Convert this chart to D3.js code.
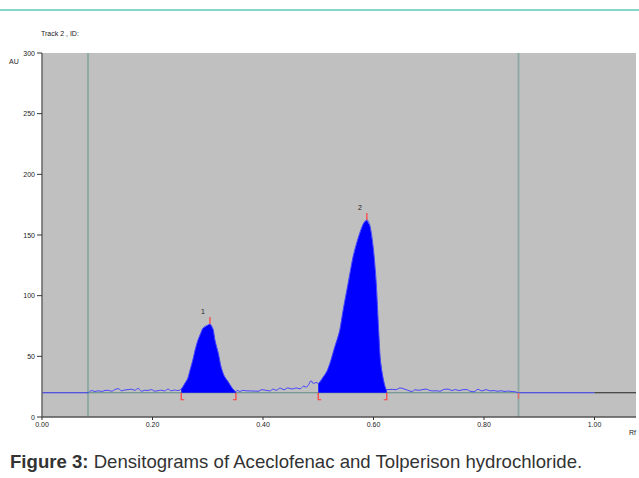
<!DOCTYPE html>
<html lang="en">
<head>
<meta charset="UTF-8">
<title>Densitogram</title>
<script src="https://d3js.org/d3.v7.min.js"></script>
<style>
    body {margin: 0; background: #fff;}
    svg {display: block;}
    text {font-family: Arial, "Liberation Sans", sans-serif;}
    .small {font-size: 7px; fill: #222;}
</style>
</head>
<body>
<div id="chart"></div>
<script>

    // scan signal (Rf, AU)
    var rf = [0.084,0.090,0.096,0.102,0.108,0.114,0.120,0.126,0.132,0.138,0.144,0.150,0.156,0.162,0.168,0.174,0.180,0.186,0.192,0.198,0.204,0.210,0.216,0.222,0.228,0.234,0.240,0.246,
              0.252,0.255,0.259,0.264,0.268,0.273,0.277,0.282,0.286,0.291,0.299,0.304,0.308,0.310,0.313,0.319,0.324,0.329,0.337,0.344,0.351,
              0.353,0.358,0.364,0.371,0.378,0.386,0.391,0.398,0.405,0.413,0.418,0.424,0.431,0.438,0.445,0.453,0.460,0.467,0.474,0.478,0.483,0.487,0.491,0.496,
              0.500,0.509,0.516,0.521,0.530,0.539,0.545,0.554,0.563,0.573,0.582,0.588,0.594,0.600,0.605,0.609,0.612,0.617,0.621,0.624,
              0.6245,0.634,0.641,0.648,0.655,0.662,0.670,0.675,0.682,0.688,0.695,0.701,0.708,0.715,0.720,0.728,0.735,0.742,0.748,0.755,0.762,0.769,0.775,0.782,0.789,0.796,0.804,0.811,0.818,0.824,0.831,0.838,0.843,0.851,0.856,0.862];
    var au = [20.0,21.8,21.0,21.6,21.0,21.9,22.0,21.2,22.6,23.4,21.6,22.3,22.6,22.9,22.0,23.6,21.2,22.0,21.9,22.6,21.3,21.7,22.1,21.5,23.0,21.6,22.2,21.8,
              23.0,25,28,32,38.7,47,55,63,67.6,73,75.5,76.6,74,71.7,63.5,52.7,41.5,34.6,29,24,20.8,
              22,21,22,21.5,21.5,21.3,21.2,22.5,22,21.5,23,22,23.8,22.5,24,23,24,23.2,25.5,24.5,27,30,27.5,28.5,
              27.7,33,38,44,58,71.7,88,110,132,148.6,159.6,162.4,156.8,137.6,110,74.4,49.7,33,25,22,
              22.5,22.8,22.5,24.0,23.2,22,21,22.5,22,22.5,23,22,21.5,21.6,21.2,22.8,23,21.8,22.6,21.8,22.5,22.6,21.2,20.8,22.8,21.5,22.6,21.5,21.8,21.2,21.6,21.0,21.4,21.0,20.8,20.0];

    var baseline = 20,
        scanStart = 0.0833,
        scanEnd = 0.8624;

    var peakStart = [0.252, 0.500],
        peakEnd = [0.351, 0.624],
        peakApex = [0.304, 0.588],
        peakLabels = ["1", "2"];

    var yTicks = [0, 50, 100, 150, 200, 250, 300],
        xTicks = [0, 0.2, 0.4, 0.6, 0.8, 1.0];

    var W = 639, H = 478;

    var x = d3.scaleLinear().domain([0, 1]).range([42, 594.5]);
    var y = d3.scaleLinear().domain([0, 300]).range([417, 53]);
    var xMax = x.invert(636);

    var svg = d3.select("#chart").append("svg")
        .attr("width", W)
        .attr("height", H);

    // header rule
    svg.append("rect").attr("x", 0).attr("y", 9).attr("width", W).attr("height", 2).attr("fill", "#86d5cb");

    svg.append("text").attr("class", "small").attr("x", 41).attr("y", 36).text("Track  2 , ID:");
    svg.append("text").attr("class", "small").attr("x", 9).attr("y", 64).text("AU");

    // plot background
    svg.append("rect")
        .attr("x", x(0)).attr("y", y(300))
        .attr("width", x(xMax) - x(0)).attr("height", y(0) - y(300))
        .attr("fill", "#c0c0c0");

    // scan window lines
    svg.selectAll(".win").data([scanStart, scanEnd]).enter().append("line")
        .attr("x1", function(d) {return x(d)}).attr("x2", function(d) {return x(d)})
        .attr("y1", y(300)).attr("y2", y(0))
        .attr("stroke", "#8fa9a5").attr("stroke-width", 2);

    // baseline pieces
    function hline(a, b, c) {
        svg.append("line").attr("x1", x(a)).attr("x2", x(b))
            .attr("y1", y(baseline)).attr("y2", y(baseline))
            .attr("stroke", c).attr("stroke-width", 1.2);
    }
    hline(0, scanStart, "#3030e8");
    hline(scanStart, scanEnd, "#5f8f86");
    hline(scanEnd, 1.0, "#3030e8");
    hline(1.0, xMax, "#222");

    var pts = rf.map(function(d, i) {return [d, au[i]]});

    // peak fills
    var area = d3.area()
        .x(function(d) {return x(d[0])})
        .y0(y(baseline))
        .y1(function(d) {return y(d[1])});
    peakStart.forEach(function(s, i) {
        var seg = pts.filter(function(p) {return p[0] >= s - 1e-6 && p[0] <= peakEnd[i] + 1e-6});
        svg.append("path").datum(seg).attr("d", area).attr("fill", "#0000ff");
    });

    // signal
    var line = d3.line()
        .x(function(d) {return x(d[0])})
        .y(function(d) {return y(d[1])})
        .curve(d3.curveMonotoneX);
    svg.append("path").datum(pts).attr("d", line)
        .attr("fill", "none").attr("stroke", "#4545ff").attr("stroke-width", 1);

    // red markers
    var red = "#ff3b3b";
    peakStart.forEach(function(s, i) {
        [[s, 1], [peakEnd[i], -1]].forEach(function(m) {
            var px = x(m[0]);
            svg.append("path")
                .attr("d", "M" + (px + 3 * m[1]) + "," + (y(baseline) + 7) + "H" + px + "V" + y(baseline))
                .attr("fill", "none").attr("stroke", red).attr("stroke-width", 1.2);
        });
        var ax = x(peakApex[i]),
            ay = y(d3.max(pts.filter(function(p) {return p[0] >= s && p[0] <= peakEnd[i]}), function(p) {return p[1]}));
        svg.append("line").attr("x1", ax).attr("x2", ax).attr("y1", ay).attr("y2", ay - 7)
            .attr("stroke", red).attr("stroke-width", 1.2);
        svg.append("text").attr("class", "small")
            .attr("x", ax - 7).attr("y", ay - 10)
            .attr("text-anchor", "middle").text(peakLabels[i]);
    });
    svg.append("line").attr("x1", x(scanEnd)).attr("x2", x(scanEnd))
        .attr("y1", y(baseline)).attr("y2", y(baseline) + 6)
        .attr("stroke", "#e87070").attr("stroke-width", 1.5);

    // axes
    svg.append("line").attr("x1", x(0)).attr("x2", x(0)).attr("y1", y(300)).attr("y2", y(0))
        .attr("stroke", "#666").attr("stroke-width", 1.5);
    svg.append("line").attr("x1", x(0)).attr("x2", x(xMax)).attr("y1", y(0)).attr("y2", y(0))
        .attr("stroke", "#555").attr("stroke-width", 1.5);

    svg.selectAll(".yt").data(yTicks).enter().append("line")
        .attr("x1", x(0) - 5).attr("x2", x(0))
        .attr("y1", function(d) {return y(d)}).attr("y2", function(d) {return y(d)})
        .attr("stroke", "#333");
    svg.selectAll(".yl").data(yTicks).enter().append("text")
        .attr("class", "small")
        .attr("x", x(0) - 7).attr("y", function(d) {return y(d) + 2.5})
        .attr("text-anchor", "end")
        .text(function(d) {return d});

    svg.selectAll(".xt").data(xTicks).enter().append("line")
        .attr("x1", function(d) {return x(d)}).attr("x2", function(d) {return x(d)})
        .attr("y1", y(0)).attr("y2", y(0) + 3)
        .attr("stroke", "#333");
    svg.selectAll(".xl").data(xTicks).enter().append("text")
        .attr("class", "small")
        .attr("x", function(d) {return x(d)}).attr("y", y(0) + 10)
        .attr("text-anchor", "middle")
        .text(function(d) {return d3.format(".2f")(d)});
    svg.append("text").attr("class", "small").attr("x", 629).attr("y", 435).text("Rf");

    // caption
    var cap = svg.append("text").attr("x", 10).attr("y", 468)
        .attr("font-size", "18.6px").attr("fill", "#333");
    cap.append("tspan").attr("font-weight", "bold").text("Figure 3:");
    cap.append("tspan").text(" Densitograms of Aceclofenac and Tolperison hydrochloride.");

</script>
</body>
</html>
